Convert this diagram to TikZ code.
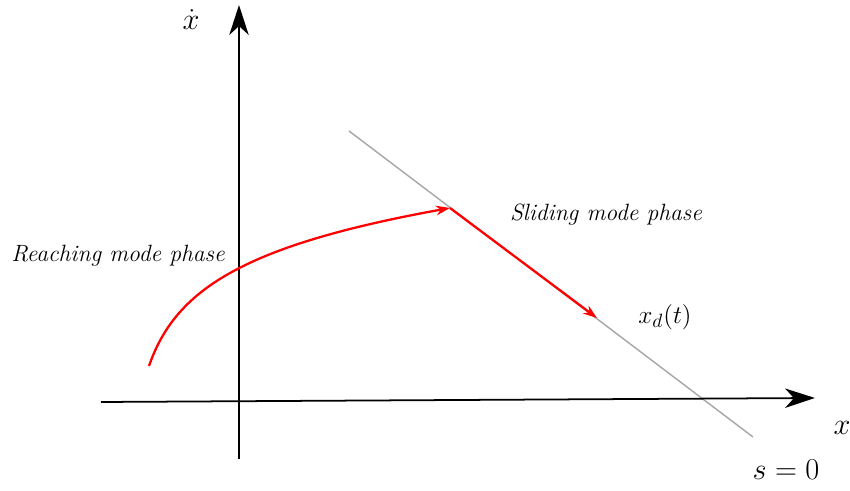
\documentclass[tikz,border=0pt]{standalone}
\usepackage{amsmath,amssymb}
\usepackage{xcolor}
\usetikzlibrary{arrows.meta,calc,backgrounds}
\pgfdeclarelayer{edgelayer}
\pgfdeclarelayer{nodelayer}
\pgfsetlayers{background,edgelayer,nodelayer,main}
\tikzstyle{none}=[inner sep=0mm]
\tikzstyle{axis}=[line width=1pt,-{Stealth[length=17pt,width=11pt,inset=5pt]}]
\tikzstyle{surface}=[draw=black!35,line width=0.8pt]
\tikzstyle{traj}=[draw=red,line width=1.3pt]
\tikzstyle{trajtip}=[-{Stealth[length=8pt,width=5.5pt]}]
\tikzstyle{lbl}=[inner sep=0mm,font=\fontsize{17.5}{20}\selectfont]
\tikzstyle{sublbl}=[inner sep=0mm,font=\fontsize{15}{18}\selectfont]
\tikzstyle{phase}=[inner sep=0mm,font=\fontsize{13.4}{16}\selectfont\itshape]

\begin{document}
\begin{tikzpicture}
	\useasboundingbox (0, 0) rectangle (17, 9.82);
	\begin{pgfonlayer}{nodelayer}
		\node [style=none] (xl) at (2.02, 1.78) {};
		\node [style=none] (xr) at (16.30, 1.86) {};
		\node [style=none] (yb) at (4.78, 0.64) {};
		\node [style=none] (yt) at (4.78, 9.72) {};
		\node [style=none] (st) at (6.98, 7.20) {};
		\node [style=none] (sb) at (15.06, 1.08) {};
		\node [style=none] (r0) at (2.98, 2.50) {};
		\node [style=none] (r1) at (9.00, 5.66) {};
		\node [style=none] (r2) at (11.94, 3.46) {};
		\node [style=lbl] (xdot) at (3.82, 9.42) {$\dot{x}$};
		\node [style=lbl] (xlab) at (16.84, 1.26) {$x$};
		\node [style=lbl] (slab) at (15.72, 0.42) {$s=0$};
		\node [style=sublbl] (xd) at (13.30, 3.48) {$x_d(t)$};
		\node [style=phase] (reach) at (2.36, 4.70) {Reaching mode phase};
		\node [style=phase] (slide) at (12.12, 5.52) {Sliding mode phase};
	\end{pgfonlayer}
	\begin{pgfonlayer}{edgelayer}
		\draw [style=surface] (st.center) to (sb.center);
		\draw [style=axis] (xl.center) to (xr.center);
		\draw [style=axis] (yb.center) to (yt.center);
		\draw [style=traj, style=trajtip] (r0.center) .. controls (3.50, 4.00) and (4.80, 4.90) .. (r1.center);
		\draw [style=traj, style=trajtip] (r1.center) to (r2.center);
	\end{pgfonlayer}
\end{tikzpicture}
\end{document}
